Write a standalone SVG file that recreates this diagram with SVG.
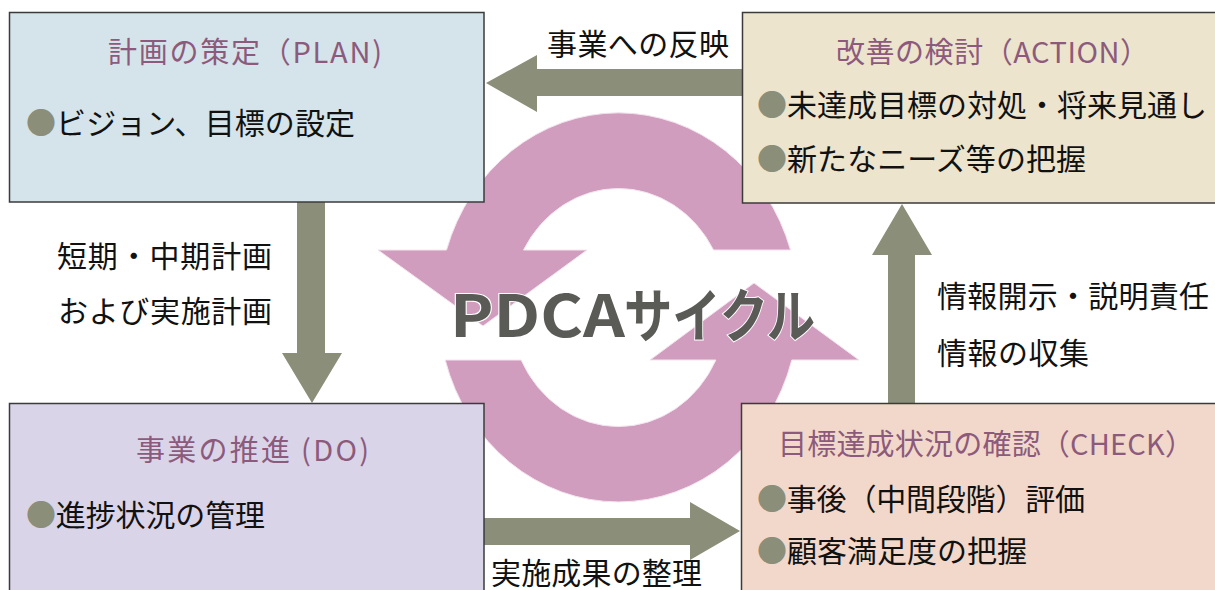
<svg xmlns="http://www.w3.org/2000/svg" width="1215" height="590" viewBox="0 0 1215 590">
<style>
text{font-family:"Noto Sans CJK JP","Noto Sans",sans-serif;font-size:30px;}
.box{stroke:#3b3b3b;stroke-width:1.5;}
.title{fill:#8c5a7c;font-size:29px;}
.body{fill:#111;}
.dot{fill:#8b8e78;}
.arrow{fill:#8b8e78;}
.lbl{fill:#111;}
.ring{fill:#d19dbf;stroke:#f3e4ee;stroke-width:1;}
.big{font-size:58px;font-weight:700;fill:#5a5a56;stroke:#ffffff;stroke-width:2;paint-order:stroke;}
</style>
<rect width="1215" height="590" fill="#ffffff"/>
<g id="cycle">
<path class="ring" d="M378 250 L446.5 250 A180 194.5 0 0 1 790.5 250 L713.5 250 A108.5 119 0 0 0 523.5 250 L587 250 L483 326 Z"/>
<path class="ring" d="M859 360 L791.8 360 A180 194.5 0 0 1 445.2 360 L521.1 360 A108.5 119 0 0 0 715.9 360 L650 360 L754 283 Z"/>
</g>
<g id="connectors">
<polygon class="arrow" points="486,83 537,55 537,69 743,69 743,96 537,96 537,112"/>
<polygon class="arrow" points="297,202 325,202 325,353 342,353 312,403 282,353 297,353"/>
<polygon class="arrow" points="888,403 888,255 872,255 902,204 932,255 915,255 915,403"/>
<polygon class="arrow" points="484,518 690,518 690,502 740,531 690,560 690,545 484,545"/>
<text class="lbl" x="547" y="55" textLength="182">事業への反映</text>
<text class="lbl" x="57" y="267" textLength="215">短期・中期計画</text>
<text class="lbl" x="58" y="322" textLength="214">および実施計画</text>
<text class="lbl" x="937" y="307" textLength="272">情報開示・説明責任</text>
<text class="lbl" x="937" y="364" textLength="152">情報の収集</text>
<text class="lbl" x="491" y="584" textLength="211">実施成果の整理</text>
</g>
<g id="plan">
<rect class="box" x="9.5" y="12.5" width="474.5" height="189.5" fill="#d5e3ea"/>
<text class="title" x="108" y="63" textLength="274">計画の策定（PLAN)</text>
<text class="body" x="26" y="134" textLength="329"><tspan class="dot">●</tspan>ビジョン、目標の設定</text>
</g>
<g id="action">
<rect class="box" x="742.5" y="12.5" width="474" height="190.5" fill="#ede4ce"/>
<text class="title" x="836" y="63" textLength="313">改善の検討（ACTION）</text>
<text class="body" x="757" y="116" textLength="450"><tspan class="dot">●</tspan>未達成目標の対処・将来見通し</text>
<text class="body" x="757" y="170" textLength="329"><tspan class="dot">●</tspan>新たなニーズ等の把握</text>
</g>
<g id="do">
<rect class="box" x="9.5" y="403.5" width="474.5" height="190" fill="#dad4e9"/>
<text class="title" x="136" y="461" textLength="233">事業の推進 (DO)</text>
<text class="body" x="26" y="526" textLength="239"><tspan class="dot">●</tspan>進捗状況の管理</text>
</g>
<g id="check">
<rect class="box" x="741.5" y="403.5" width="475" height="190" fill="#f2d8ca"/>
<text class="title" x="778" y="455" textLength="416">目標達成状況の確認（CHECK）</text>
<text class="body" x="757" y="510" textLength="328"><tspan class="dot">●</tspan>事後（中間段階）評価</text>
<text class="body" x="757" y="562" textLength="270"><tspan class="dot">●</tspan>顧客満足度の把握</text>
</g>
<g id="label">
<text class="big" x="450" y="337" textLength="175" lengthAdjust="spacingAndGlyphs">PDCA</text>
<text class="big" x="624" y="337" textLength="191" lengthAdjust="spacingAndGlyphs">サイクル</text>
</g>
</svg>
